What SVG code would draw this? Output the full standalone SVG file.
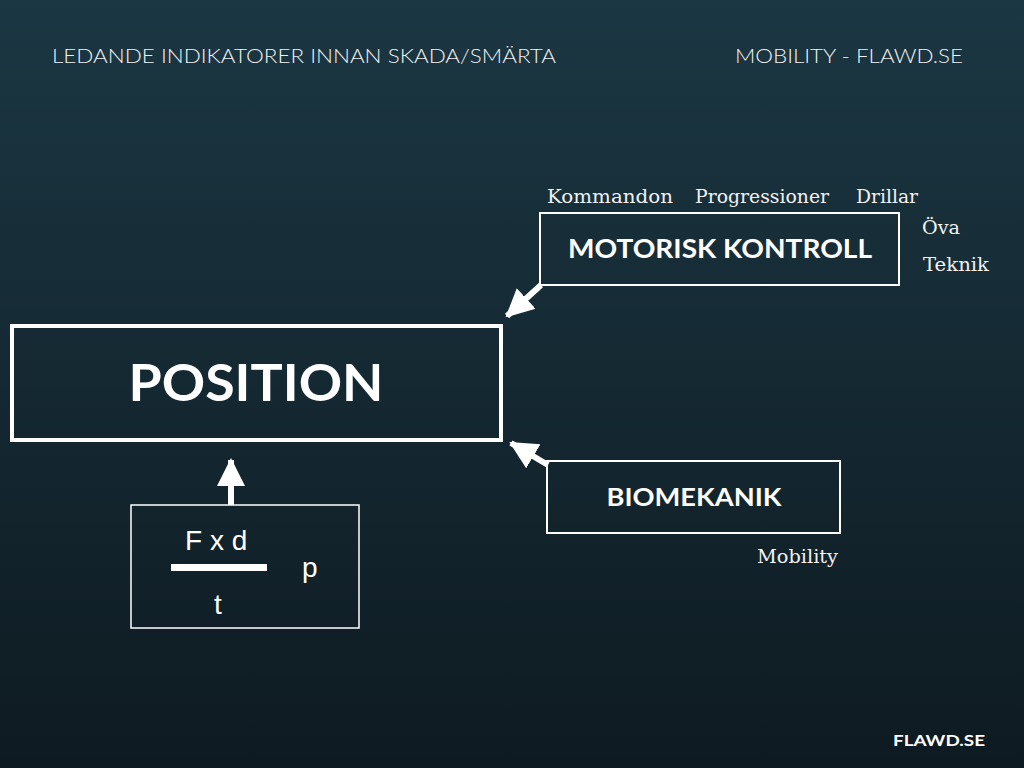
<svg xmlns="http://www.w3.org/2000/svg" width="1024" height="768" viewBox="0 0 1024 768">
<defs>
<linearGradient id="bg" x1="0" y1="0" x2="0" y2="1">
<stop offset="0" stop-color="#1b3743"/>
<stop offset="1" stop-color="#0e1a21"/>
</linearGradient>
<marker id="ah" markerUnits="userSpaceOnUse" markerWidth="30" markerHeight="30" viewBox="0 0 30 30" refX="26" refY="15" orient="auto">
<path d="M0,1 L28,15 L0,29 Z" fill="#fff"/>
</marker>
<style>
.box{fill:none;stroke:#fff}
.hd{font-family:Lato,"Open Sans",sans-serif;font-weight:300;fill:#f2f2f2;font-size:20px}
.bd{font-family:Lato,"Open Sans",sans-serif;font-weight:700;fill:#fff}
.sf{font-family:"DejaVu Serif","Liberation Serif",serif;fill:#f2f2f2;font-size:19px}
.ss{font-family:"Liberation Sans",Arial,sans-serif;fill:#fff;font-size:28px}
.con{stroke:#fff;stroke-width:6;fill:none}
</style>
</defs>
<rect width="1024" height="768" fill="url(#bg)"/>
<text class="hd" x="52" y="63" textLength="504" lengthAdjust="spacingAndGlyphs">LEDANDE INDIKATORER INNAN SKADA/SMÄRTA</text>
<text class="hd" x="735" y="63" textLength="228" lengthAdjust="spacingAndGlyphs">MOBILITY - FLAWD.SE</text>
<g id="motorisk">
<rect class="box" x="540" y="213" width="359" height="72" stroke-width="2"/>
<text class="bd" x="720" y="258" font-size="27" text-anchor="middle" textLength="304" lengthAdjust="spacingAndGlyphs">MOTORISK KONTROLL</text>
<text class="sf" x="547" y="203" textLength="126" lengthAdjust="spacingAndGlyphs">Kommandon</text>
<text class="sf" x="695" y="203" textLength="134" lengthAdjust="spacingAndGlyphs">Progressioner</text>
<text class="sf" x="856" y="203" textLength="62" lengthAdjust="spacingAndGlyphs">Drillar</text>
<text class="sf" x="922" y="234" textLength="38" lengthAdjust="spacingAndGlyphs">Öva</text>
<text class="sf" x="923" y="271" textLength="66" lengthAdjust="spacingAndGlyphs">Teknik</text>
</g>
<g id="position">
<rect class="box" x="12" y="326" width="489" height="114" stroke-width="4"/>
<text class="bd" x="256" y="401" font-size="52" text-anchor="middle" textLength="255" lengthAdjust="spacingAndGlyphs">POSITION</text>
</g>
<g id="biomekanik">
<rect class="box" x="547" y="461" width="293" height="72" stroke-width="2"/>
<text class="bd" x="694" y="506" font-size="25" text-anchor="middle" textLength="175" lengthAdjust="spacingAndGlyphs">BIOMEKANIK</text>
<text class="sf" x="757" y="563" textLength="81" lengthAdjust="spacingAndGlyphs">Mobility</text>
</g>
<g id="formel">
<rect class="box" x="131" y="505" width="228" height="123" stroke-width="1.5"/>
<text class="ss" x="185" y="550">F x d</text>
<rect x="171" y="564" width="96" height="7" fill="#fff"/>
<text class="ss" x="302" y="577">p</text>
<text class="ss" x="214" y="614">t</text>
</g>
<g id="connectors">
<path class="con" d="M541,285 L507,316" marker-end="url(#ah)"/>
<path class="con" d="M548,465 L511,443" marker-end="url(#ah)"/>
<path class="con" d="M231,505 L231,460" stroke-width="7" marker-end="url(#ah)"/>
</g>
<text class="bd" x="893" y="746" font-size="16" textLength="92" lengthAdjust="spacingAndGlyphs">FLAWD.SE</text>
</svg>
